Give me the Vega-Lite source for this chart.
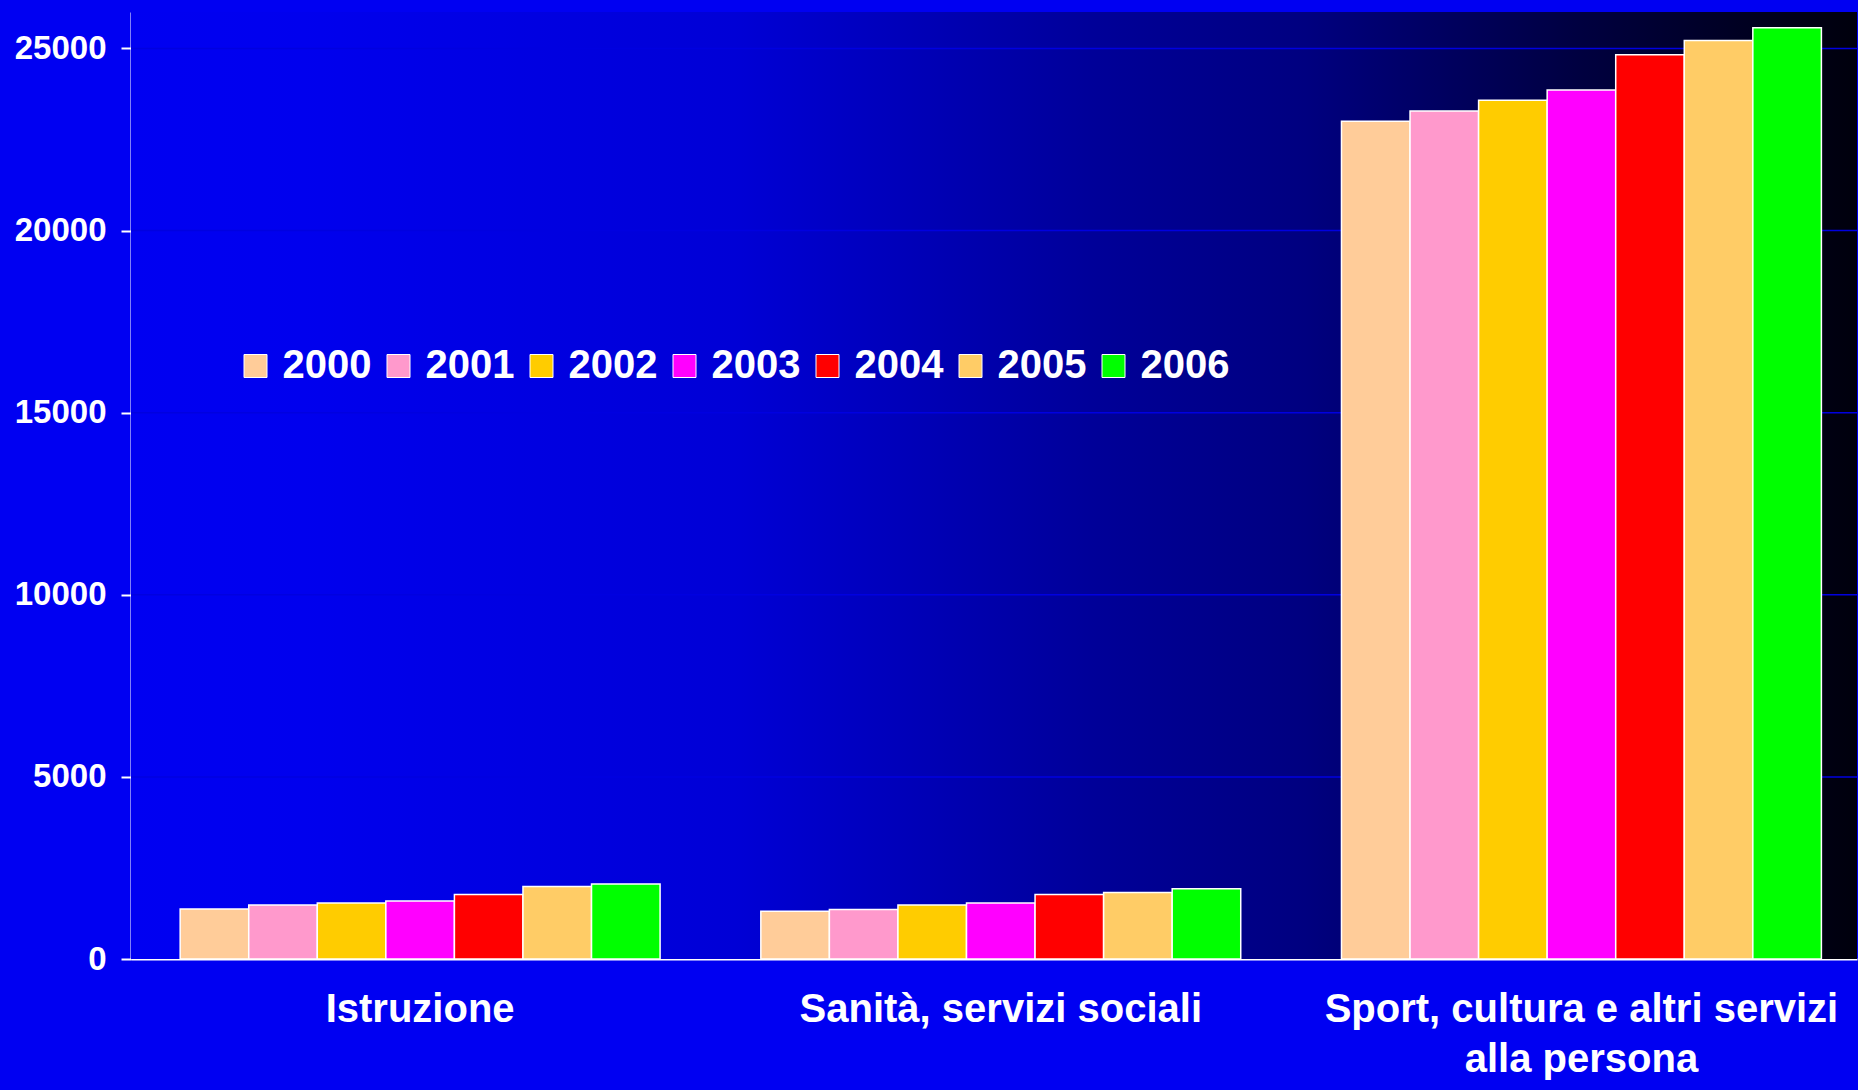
{
  "$schema": "https://vega.github.io/schema/vega-lite/v6.json",
  "autosize": {"type": "fit", "contains": "padding"},
  "padding": {"left": 14, "top": 12, "right": 0, "bottom": 11},
  "width": 1858,
  "height": 1090,
  "background": "#0000f2",
  "config": {
    "view": {"stroke": null},
    "axis": {
      "labelFont": "Liberation Sans",
      "labelFontWeight": "bold",
      "labelColor": "#ffffff",
      "domainColor": "#ffffff",
      "domainWidth": 2,
      "tickColor": "#ffffff",
      "tickWidth": 2,
      "tickSize": 10,
      "title": null,
      "zindex": 1
    }
  },
  "layer": [
    {
      "data": {"values": [{}]},
      "mark": {
        "type": "rect",
        "fill": {
          "gradient": "linear",
          "x1": 0, "y1": 0, "x2": 1, "y2": 0,
          "stops": [
            {"offset": 0, "color": "#0000f2"},
            {"offset": 0.1, "color": "#0000ee"},
            {"offset": 0.35, "color": "#0000d6"},
            {"offset": 0.56, "color": "#000098"},
            {"offset": 0.68, "color": "#000080"},
            {"offset": 0.84, "color": "#000040"},
            {"offset": 1, "color": "#00000c"}
          ]
        }
      },
      "encoding": {}
    },
    {
      "data": {"values": [{"griglia": 5000}, {"griglia": 10000}, {"griglia": 15000}, {"griglia": 20000}, {"griglia": 25000}]},
      "mark": {"type": "rule", "color": "#0000e0", "strokeWidth": 1.5},
      "encoding": {
        "y": {"field": "griglia", "type": "quantitative"}
      }
    },
    {
      "data": {
        "values": [
          {"categoria": "Istruzione", "anno": "2000", "valore": 1371},
          {"categoria": "Istruzione", "anno": "2001", "valore": 1481},
          {"categoria": "Istruzione", "anno": "2002", "valore": 1536},
          {"categoria": "Istruzione", "anno": "2003", "valore": 1591},
          {"categoria": "Istruzione", "anno": "2004", "valore": 1774},
          {"categoria": "Istruzione", "anno": "2005", "valore": 1993},
          {"categoria": "Istruzione", "anno": "2006", "valore": 2057},
          {"categoria": "Sanità, servizi sociali", "anno": "2000", "valore": 1308},
          {"categoria": "Sanità, servizi sociali", "anno": "2001", "valore": 1362},
          {"categoria": "Sanità, servizi sociali", "anno": "2002", "valore": 1481},
          {"categoria": "Sanità, servizi sociali", "anno": "2003", "valore": 1536},
          {"categoria": "Sanità, servizi sociali", "anno": "2004", "valore": 1774},
          {"categoria": "Sanità, servizi sociali", "anno": "2005", "valore": 1829},
          {"categoria": "Sanità, servizi sociali", "anno": "2006", "valore": 1929},
          {"categoria": "Sport, cultura e altri servizi alla persona", "anno": "2000", "valore": 23000},
          {"categoria": "Sport, cultura e altri servizi alla persona", "anno": "2001", "valore": 23280},
          {"categoria": "Sport, cultura e altri servizi alla persona", "anno": "2002", "valore": 23574},
          {"categoria": "Sport, cultura e altri servizi alla persona", "anno": "2003", "valore": 23856},
          {"categoria": "Sport, cultura e altri servizi alla persona", "anno": "2004", "valore": 24827},
          {"categoria": "Sport, cultura e altri servizi alla persona", "anno": "2005", "valore": 25219},
          {"categoria": "Sport, cultura e altri servizi alla persona", "anno": "2006", "valore": 25568}
        ]
      },
      "mark": {"type": "bar", "stroke": "#ffffff", "strokeWidth": 1.5, "opacity": 1},
      "encoding": {
        "x": {
          "field": "categoria",
          "type": "nominal",
          "sort": null,
          "scale": {"paddingInner": 0.1735, "paddingOuter": 0.073, "align": 0.58},
          "axis": {
            "labelAngle": 0,
            "labelFontSize": 40,
            "labelPadding": 30,
            "labelLineHeight": 50,
            "labelLimit": 0,
            "labelBaseline": "top",
            "ticks": false,
            "labelExpr": "datum.value == 'Sport, cultura e altri servizi alla persona' ? ['Sport, cultura e altri servizi', 'alla persona'] : datum.value"
          }
        },
        "xOffset": {
          "field": "anno",
          "type": "nominal",
          "scale": {"paddingInner": 0, "paddingOuter": 0}
        },
        "y": {
          "field": "valore",
          "type": "quantitative",
          "scale": {"domain": [0, 26000], "nice": false},
          "axis": {
            "values": [0, 5000, 10000, 15000, 20000, 25000],
            "format": "d",
            "labelFontSize": 33,
            "labelPadding": 15,
            "grid": false
          }
        },
        "color": {
          "field": "anno",
          "type": "nominal",
          "scale": {
            "domain": ["2000", "2001", "2002", "2003", "2004", "2005", "2006"],
            "range": ["#ffcc99", "#ff99cc", "#ffcc00", "#ff00ff", "#ff0000", "#ffcc66", "#00ff00"]
          },
          "legend": {
            "orient": "none",
            "legendX": 104.5,
            "legendY": 334,
            "direction": "horizontal",
            "title": null,
            "padding": 0,
            "labelFont": "Liberation Sans",
            "labelFontWeight": "bold",
            "labelFontSize": 40,
            "labelColor": "#ffffff",
            "labelOffset": 7,
            "columnPadding": 7,
            "symbolType": "square",
            "symbolSize": 529,
            "symbolStrokeColor": "#ffffff",
            "symbolStrokeWidth": 1,
            "symbolOpacity": 1
          }
        }
      }
    }
  ]
}
